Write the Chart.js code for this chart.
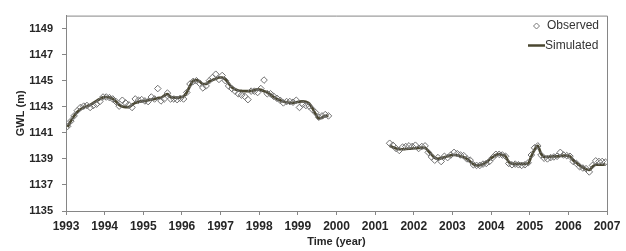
<!DOCTYPE html>
<html>
<head>
<meta charset="utf-8">
<script src="https://cdn.jsdelivr.net/npm/chart.js@4.4.0/dist/chart.umd.min.js"></script>
<style>
html, body { margin: 0; padding: 0; background: #fff; }
</style>
</head>
<body>
<canvas id="gwlChart" width="626" height="251"></canvas>
<script>
// observed groundwater level, monthly values (m)
const obs1993 = [1141.5, 1141.9, 1142.3, 1142.7, 1142.95, 1143.05, 1143.1, 1142.95, 1143.1, 1143.2, 1143.4, 1143.75];
const obs1994 = [1143.75, 1143.7, 1143.6, 1143.4, 1143.05, 1143.5, 1143.3, 1143.15, 1142.95, 1143.6, 1143.5, 1143.55];
const obs1995 = [1143.45, 1143.4, 1143.75, 1143.6, 1144.4, 1143.45, 1143.6, 1144.05, 1143.6, 1143.6, 1143.55, 1143.65];
const obs1996 = [1143.6, 1144.1, 1144.75, 1144.95, 1145.0, 1144.8, 1144.45, 1144.6, 1145.0, 1145.25, 1145.5, 1145.1];
const obs1997 = [1145.4, 1145.0, 1144.6, 1144.4, 1144.2, 1144.0, 1143.9, 1143.8, 1143.55, 1144.2, 1144.2, 1144.1];
const obs1998 = [1144.4, 1145.05, 1144.0, 1144.0, 1143.8, 1143.65, 1143.5, 1143.3, 1143.4, 1143.4, 1143.35, 1143.5];
const obs1999 = [1142.95, 1143.2, 1143.1, 1143.05, 1142.8, 1142.55, 1142.2, 1142.3, 1142.4, 1142.3];
const obs2001 = [1140.2, 1140.05, 1139.8, 1139.65, 1139.9, 1139.95, 1140.0, 1139.95]; // from May
const obs2002 = [1140.05, 1139.8, 1139.95, 1140.0, 1139.5, 1139.15, 1138.9, 1139.1, 1138.8, 1139.2, 1139.1, 1139.3];
const obs2003 = [1139.5, 1139.4, 1139.3, 1139.25, 1139.0, 1138.9, 1138.55, 1138.5, 1138.5, 1138.6, 1138.65, 1138.8];
const obs2004 = [1139.1, 1139.35, 1139.35, 1139.3, 1139.2, 1138.65, 1138.55, 1138.6, 1138.55, 1138.5, 1138.55, 1138.7];
const obs2005 = [1139.3, 1139.85, 1140.0, 1139.3, 1139.05, 1139.0, 1139.1, 1139.15, 1139.2, 1139.5, 1139.3, 1139.25];
const obs2006 = [1139.2, 1138.8, 1138.65, 1138.4, 1138.3, 1138.25, 1138.0, 1138.5, 1138.85, 1138.8, 1138.8, 1138.75];

// simulated groundwater level, monthly values (m)
const sim1993 = [1141.45, 1141.9, 1142.3, 1142.6, 1142.8, 1142.95, 1143.05, 1143.15, 1143.3, 1143.45, 1143.6, 1143.72];
const sim1994 = [1143.75, 1143.72, 1143.6, 1143.4, 1143.15, 1143.02, 1142.98, 1142.98, 1143.15, 1143.3, 1143.38, 1143.42];
const sim1995 = [1143.45, 1143.5, 1143.55, 1143.6, 1143.67, 1143.7, 1143.85, 1143.98, 1143.75, 1143.7, 1143.7, 1143.72];
const sim1996 = [1143.8, 1144.1, 1144.6, 1145.0, 1145.05, 1144.95, 1144.75, 1144.75, 1144.95, 1145.05, 1145.15, 1145.25];
const sim1997 = [1145.25, 1145.1, 1144.8, 1144.5, 1144.35, 1144.25, 1144.22, 1144.2, 1144.2, 1144.22, 1144.28, 1144.33];
const sim1998 = [1144.3, 1144.2, 1144.1, 1143.95, 1143.75, 1143.6, 1143.5, 1143.4, 1143.35, 1143.3, 1143.3, 1143.35];
const sim1999 = [1143.4, 1143.42, 1143.38, 1143.25, 1142.9, 1142.45, 1142.1, 1142.15, 1142.3, 1142.3];
const sim2001 = [1140.0, 1139.9, 1139.8, 1139.75, 1139.74, 1139.76, 1139.78, 1139.8]; // from May
const sim2002 = [1139.82, 1139.84, 1139.86, 1139.85, 1139.6, 1139.35, 1139.1, 1139.0, 1139.05, 1139.13, 1139.2, 1139.28];
const sim2003 = [1139.3, 1139.28, 1139.2, 1139.12, 1139.0, 1138.8, 1138.6, 1138.5, 1138.52, 1138.6, 1138.75, 1138.95];
const sim2004 = [1139.13, 1139.3, 1139.37, 1139.3, 1139.2, 1138.75, 1138.63, 1138.62, 1138.62, 1138.62, 1138.62, 1138.65];
const sim2005 = [1139.2, 1139.7, 1140.0, 1139.4, 1139.15, 1139.15, 1139.18, 1139.2, 1139.2, 1139.22, 1139.25, 1139.25];
const sim2006 = [1139.2, 1138.9, 1138.7, 1138.5, 1138.35, 1138.2, 1138.15, 1138.4, 1138.55, 1138.55, 1138.55, 1138.58];

const xTicks = [1993, 1994, 1995, 1996, 1997, 1998, 1999, 2000, 2001, 2002, 2003, 2004, 2005, 2006, 2007];
const yTicks = [1135, 1137, 1139, 1141, 1143, 1145, 1147, 1149];

// month values -> {x: decimal year, y}
function monthly(year, firstMonth, vals) {
    return vals.map((v, i) => ({ x: year + (firstMonth + i + 0.5) / 12, y: v }));
}

const observedPts = [].concat(
    monthly(1993, 0, obs1993), monthly(1994, 0, obs1994), monthly(1995, 0, obs1995),
    monthly(1996, 0, obs1996), monthly(1997, 0, obs1997), monthly(1998, 0, obs1998),
    monthly(1999, 0, obs1999), monthly(2001, 4, obs2001), monthly(2002, 0, obs2002),
    monthly(2003, 0, obs2003), monthly(2004, 0, obs2004), monthly(2005, 0, obs2005),
    monthly(2006, 0, obs2006)
);

const simulatedPts = [].concat(
    monthly(1993, 0, sim1993), monthly(1994, 0, sim1994), monthly(1995, 0, sim1995),
    monthly(1996, 0, sim1996), monthly(1997, 0, sim1997), monthly(1998, 0, sim1998),
    monthly(1999, 0, sim1999),
    [{ x: 2000.5, y: null }],  // no data between the two periods
    monthly(2001, 4, sim2001), monthly(2002, 0, sim2002), monthly(2003, 0, sim2003),
    monthly(2004, 0, sim2004), monthly(2005, 0, sim2005), monthly(2006, 0, sim2006)
);

const axisGrey = '#868686';
const lineColor = '#4a4731';

// plot-area frame and the legend box in the upper right
const frameAndLegend = {
    id: 'frameAndLegend',
    afterDraw(chart) {
        const ctx = chart.ctx;
        const a = chart.chartArea;
        ctx.save();
        ctx.strokeStyle = axisGrey;
        ctx.lineWidth = 1;
        ctx.beginPath();
        ctx.moveTo(a.left, a.top + 0.5);
        ctx.lineTo(a.right + 0.5, a.top + 0.5);
        ctx.lineTo(a.right + 0.5, a.bottom);
        ctx.stroke();

        ctx.font = '12px "Liberation Sans", Arial, sans-serif';
        ctx.fillStyle = '#333';
        ctx.textBaseline = 'middle';
        ctx.textAlign = 'left';

        // Observed
        ctx.strokeStyle = '#777';
        ctx.beginPath();
        ctx.moveTo(536.5, 23);
        ctx.lineTo(539.5, 26);
        ctx.lineTo(536.5, 29);
        ctx.lineTo(533.5, 26);
        ctx.closePath();
        ctx.stroke();
        ctx.fillText('Observed', 547, 26);

        // Simulated
        ctx.strokeStyle = lineColor;
        ctx.lineWidth = 2.5;
        ctx.beginPath();
        ctx.moveTo(528, 45.5);
        ctx.lineTo(545, 45.5);
        ctx.stroke();
        ctx.fillText('Simulated', 545, 46);
        ctx.restore();
    }
};

const ctx = document.getElementById('gwlChart').getContext('2d');
new Chart(ctx, {
    type: 'scatter',
    data: {
        datasets: [
            {
                label: 'Simulated',
                data: simulatedPts,
                showLine: true,
                spanGaps: false,
                borderColor: lineColor,
                borderWidth: 2.7,
                pointRadius: 0,
                cubicInterpolationMode: 'monotone',
                order: 2
            },
            {
                label: 'Observed',
                data: observedPts,
                showLine: false,
                pointStyle: 'rectRot',
                pointRadius: 3.3,
                borderColor: '#707070',
                borderWidth: 1,
                backgroundColor: 'rgba(255,255,255,0)',
                order: 1
            }
        ]
    },
    options: {
        responsive: false,
        animation: false,
        layout: { padding: { left: 14, right: 19, top: 7, bottom: 0 } },
        plugins: {
            legend: { display: false },
            tooltip: { enabled: false }
        },
        scales: {
            x: {
                type: 'linear',
                min: 1993,
                max: 2007,
                afterBuildTicks: scale => { scale.ticks = xTicks.map(v => ({ value: v })); },
                afterFit: scale => { scale.height = 40; },
                grid: { drawOnChartArea: false, drawTicks: true, tickLength: 4, color: axisGrey },
                border: { color: axisGrey },
                ticks: {
                    callback: v => String(v),
                    color: '#262626',
                    padding: 4,
                    maxRotation: 0,
                    font: { family: '"Liberation Sans", Arial, sans-serif', size: 12, weight: 'bold' }
                },
                title: {
                    display: true,
                    text: 'Time (year)',
                    color: '#262626',
                    padding: { top: 0, bottom: 2 },
                    font: { family: '"Liberation Sans", Arial, sans-serif', size: 11, weight: 'bold' }
                }
            },
            y: {
                min: 1135,
                max: 1150,
                afterBuildTicks: scale => { scale.ticks = yTicks.map(v => ({ value: v })); },
                afterFit: scale => { scale.width = 52; },
                grid: { drawOnChartArea: false, drawTicks: true, tickLength: 4, color: axisGrey },
                border: { color: axisGrey },
                ticks: {
                    callback: v => String(v),
                    color: '#262626',
                    padding: 9,
                    font: { family: '"Liberation Sans", Arial, sans-serif', size: 11, weight: 'bold' }
                },
                title: {
                    display: true,
                    text: 'GWL (m)',
                    color: '#262626',
                    padding: 0,
                    font: { family: '"Liberation Sans", Arial, sans-serif', size: 11, weight: 'bold' }
                }
            }
        }
    },
    plugins: [frameAndLegend]
});
</script>
</body>
</html>
